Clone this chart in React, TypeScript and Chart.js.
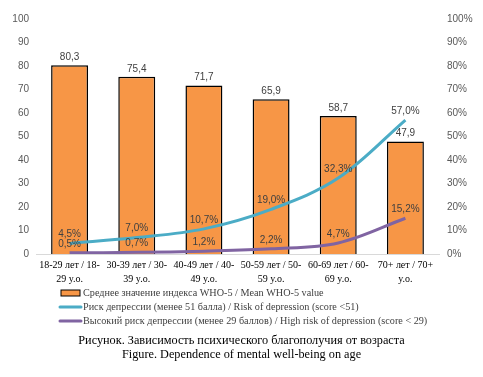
import React, { useEffect, useRef } from "react";
import { Chart, registerables } from "chart.js";

Chart.register(...registerables);

const categories: string[][] = [
  ["18-29 лет / 18-", "29 y.o."],
  ["30-39 лет / 30-", "39 y.o."],
  ["40-49 лет / 40-", "49 y.o."],
  ["50-59 лет / 50-", "59 y.o."],
  ["60-69 лет / 60-", "69 y.o."],
  ["70+ лет / 70+", "y.o."],
];
const who5Mean = [80.3, 75.4, 71.7, 65.9, 58.7, 47.9];
const depressionRisk = [4.5, 7.0, 10.7, 19.0, 32.3, 57.0];
const highDepressionRisk = [0.5, 0.7, 1.2, 2.2, 4.7, 15.2];

const leftAxisMax = 100;
const leftAxisStep = 10;
const rightAxisMax = 100;
const rightAxisStep = 10;

const seriesNames = [
  "Среднее значение индекса WHO-5 / Mean WHO-5 value",
  "Риск депрессии (менее 51 балла) / Risk of depression (score <51)",
  "Высокий риск депрессии (менее 29 баллов) / High risk of depression (score < 29)",
];
const captionLines = [
  "Рисунок. Зависимость психического благополучия от возраста",
  "Figure. Dependence of mental well-being on age",
];

const ORANGE = "#F79646";
const BLUE = "#4BACC6";
const PURPLE = "#8064A2";
const SERIF = "'Liberation Serif', 'Times New Roman', serif";
const SANS = "'Liberation Sans', Arial, sans-serif";

const fmt = (v: number) => v.toFixed(1).replace(".", ",");

const dataLabelPlugin = {
  id: "dataLabels",
  afterDatasetsDraw(chart: any) {
    const ctx = chart.ctx;
    ctx.save();
    ctx.font = `10px ${SANS}`;
    ctx.fillStyle = "#404040";
    ctx.textAlign = "center";
    ctx.textBaseline = "bottom";
    chart.data.datasets.forEach((ds: any, i: number) => {
      const meta = chart.getDatasetMeta(i);
      const isBar = ds.type === "bar";
      meta.data.forEach((el: any, j: number) => {
        const { x, y } = el.getProps(["x", "y"], true);
        const v = ds.data[j];
        const text = isBar ? fmt(v) : fmt(v) + "%";
        ctx.fillText(text, x, y - (isBar ? 3 : 4));
      });
    });
    ctx.restore();
  },
};

const legendCaptionPlugin = {
  id: "legendCaption",
  afterDraw(chart: any) {
    const ctx = chart.ctx;
    ctx.save();
    const x0 = 60;
    const rows = [293, 307, 321];
    ctx.font = `10.2px ${SERIF}`;
    ctx.textBaseline = "middle";
    ctx.textAlign = "left";
    rows.forEach((ry, k) => {
      const ds = chart.data.datasets[k];
      if (ds.type === "bar") {
        ctx.fillStyle = ds.backgroundColor;
        ctx.fillRect(x0 + 1, ry - 3, 19, 6);
        ctx.strokeStyle = "#000";
        ctx.lineWidth = 1;
        ctx.strokeRect(x0 + 1, ry - 3, 19, 6);
      } else {
        ctx.strokeStyle = ds.borderColor;
        ctx.lineWidth = 3;
        ctx.lineCap = "round";
        ctx.beginPath();
        ctx.moveTo(x0, ry);
        ctx.lineTo(x0 + 21, ry);
        ctx.stroke();
      }
      ctx.fillStyle = "#404040";
      ctx.fillText(ds.label, x0 + 23, ry);
    });
    ctx.fillStyle = "#000";
    ctx.textAlign = "center";
    ctx.font = `12.25px ${SERIF}`;
    ctx.fillText(captionLines[0], chart.width / 2, 341);
    ctx.fillText(captionLines[1], chart.width / 2, 355);
    ctx.restore();
  },
};

export default function App() {
  const ref = useRef<HTMLCanvasElement | null>(null);
  useEffect(() => {
    document.body.style.margin = "0";
    const canvas = ref.current!;
    const chart = new Chart(canvas, {
      type: "bar",
      data: {
        labels: categories,
        datasets: [
          {
            type: "bar",
            label: seriesNames[0],
            data: who5Mean,
            backgroundColor: ORANGE,
            borderColor: "#000",
            borderWidth: 1.5,
            yAxisID: "y",
            order: 2,
            barPercentage: 0.55,
            categoryPercentage: 1,
          } as any,
          {
            type: "line",
            label: seriesNames[1],
            data: depressionRisk,
            borderColor: BLUE,
            backgroundColor: BLUE,
            borderWidth: 3,
            pointRadius: 0,
            tension: 0.35,
            fill: false,
            yAxisID: "y1",
            order: 1,
          } as any,
          {
            type: "line",
            label: seriesNames[2],
            data: highDepressionRisk,
            borderColor: PURPLE,
            backgroundColor: PURPLE,
            borderWidth: 3,
            pointRadius: 0,
            tension: 0.35,
            fill: false,
            yAxisID: "y1",
            order: 0,
          } as any,
        ],
      },
      options: {
        responsive: false,
        animation: false,
        layout: { padding: { top: 19, bottom: 90, left: 0, right: 0 } },
        plugins: {
          legend: { display: false },
          tooltip: { enabled: false },
          title: { display: false },
        },
        scales: {
          x: {
            grid: { display: false, drawTicks: false },
            border: { display: true, color: "#D9D9D9", width: 1 },
            ticks: {
              font: { family: SERIF, size: 10, lineHeight: 1.4 },
              color: "#000",
              maxRotation: 0,
              autoSkip: false,
              padding: 4,
            },
            afterFit: (s: any) => {
              s.height = 33;
            },
          },
          y: {
            position: "left",
            min: 0,
            max: leftAxisMax,
            grid: { display: false, drawTicks: false },
            border: { display: false },
            ticks: {
              stepSize: leftAxisStep,
              font: { family: SANS, size: 10 },
              color: "#595959",
              padding: 7,
            },
            afterFit: (s: any) => {
              s.width = 36;
            },
          },
          y1: {
            position: "right",
            min: 0,
            max: rightAxisMax,
            grid: { display: false, drawTicks: false },
            border: { display: false },
            ticks: {
              stepSize: rightAxisStep,
              font: { family: SANS, size: 10 },
              color: "#595959",
              padding: 8,
              callback: (v: any) => v + "%",
            },
            afterFit: (s: any) => {
              s.width = 44;
            },
          },
        },
      },
      plugins: [dataLabelPlugin, legendCaptionPlugin],
    });
    return () => chart.destroy();
  }, []);
  return (
    <div style={{ width: 483, height: 377, background: "#fff" }}>
      <canvas ref={ref} width={483} height={377} style={{ display: "block" }} />
    </div>
  );
}
